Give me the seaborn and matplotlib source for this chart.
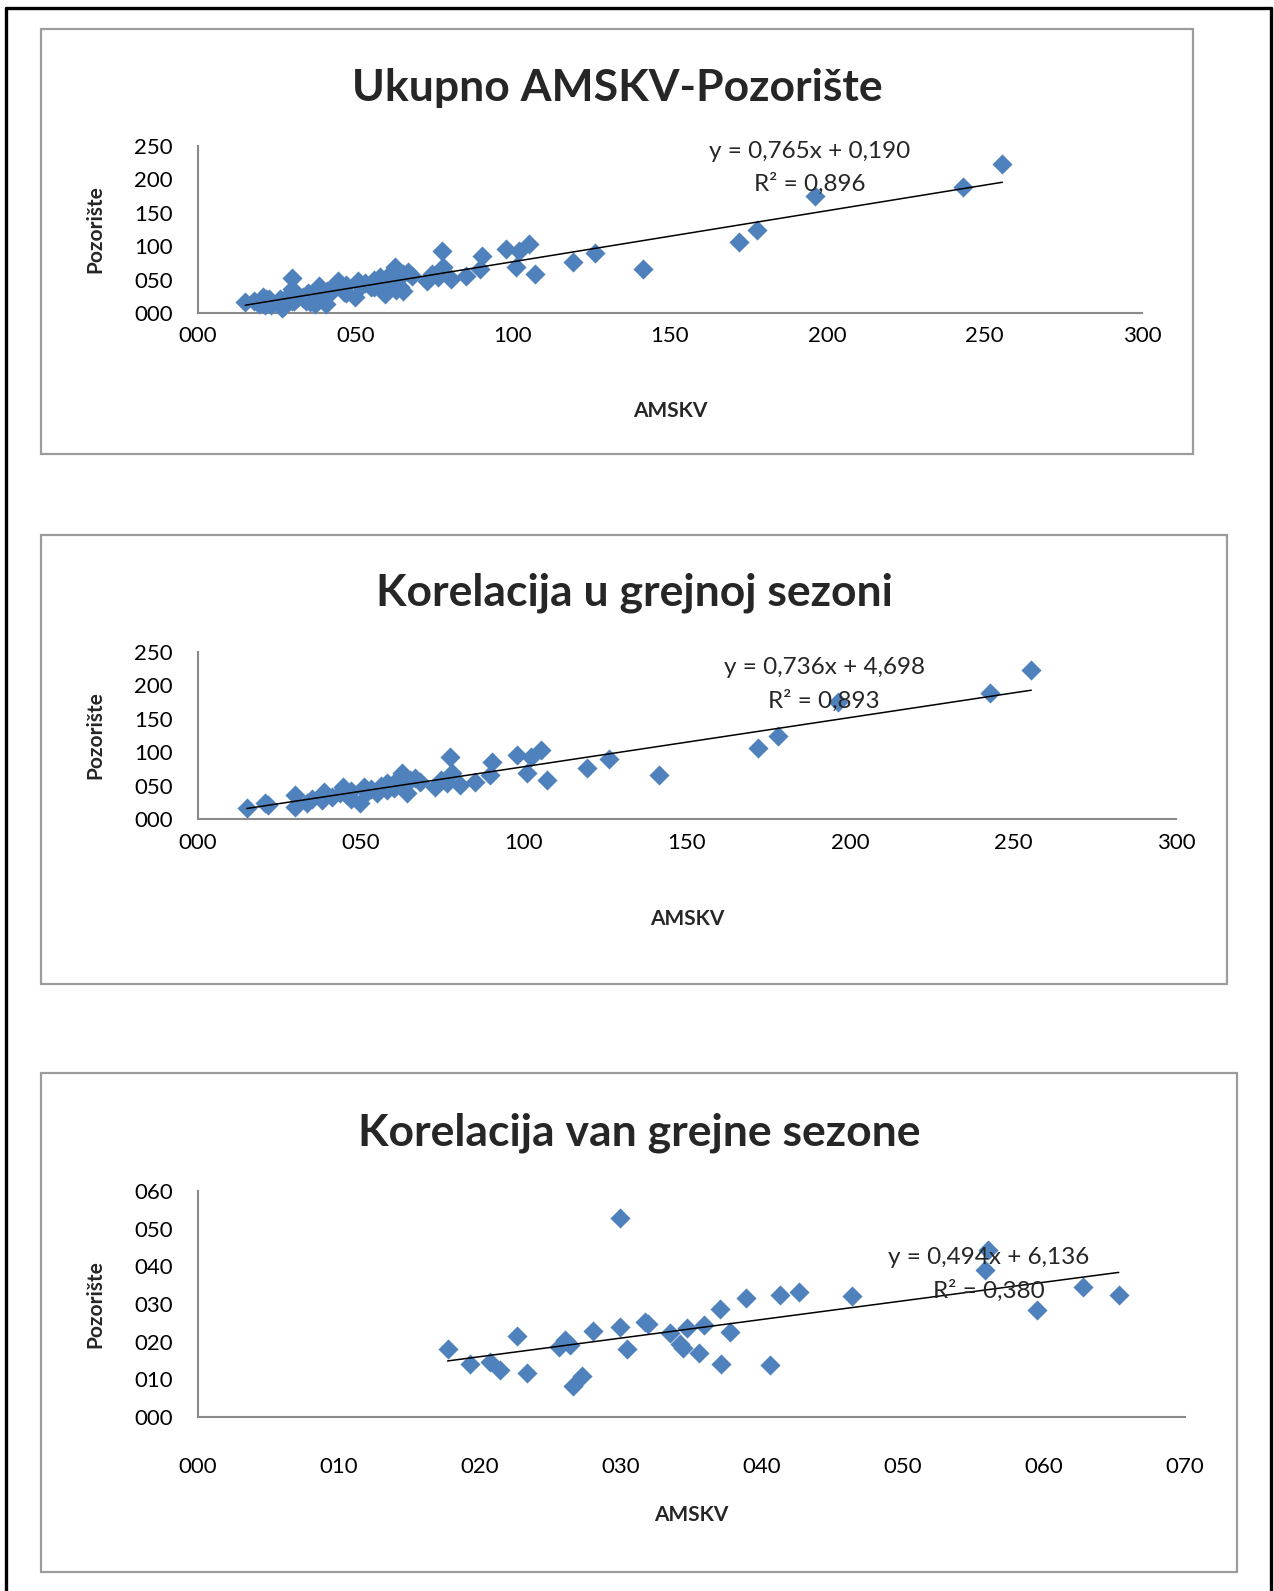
import numpy as np
import pandas as pd
import matplotlib
matplotlib.use("Agg")
import matplotlib.pyplot as plt
import seaborn as sns
from matplotlib.patches import Rectangle
from matplotlib.lines import Line2D
from matplotlib.ticker import MultipleLocator, FuncFormatter

# grejna sezona (AMSKV, Pozoriste)
heat_x = [15.0, 20.6, 21.6, 29.8, 29.8, 33.4, 35.0, 38.0, 38.5, 41.0, 43.6, 44.6,
          45.7, 47.0, 47.0, 49.8, 50.8, 51.8, 53.0, 54.9, 56.0, 57.9, 58.0, 60.0,
          61.0, 62.5, 63.0, 64.1, 65.1, 66.7, 68.0, 72.8, 74.4, 76.4, 77.4, 77.9,
          80.5, 85.1, 89.7, 90.2, 97.9, 101.0, 102.0, 105.1, 107.2, 119.2, 126.1,
          141.5, 171.8, 177.8, 196.2, 243.0, 255.6]
heat_y = [16.9, 23.4, 21.0, 36.0, 18.4, 23.4, 30.0, 28.4, 40.9, 33.0, 38.4, 48.4,
          35.9, 42.0, 30.0, 23.4, 48.4, 40.9, 45.0, 38.4, 50.0, 53.4, 43.0, 45.9,
          58.4, 68.4, 52.0, 38.4, 58.4, 60.9, 56.0, 48.4, 58.4, 53.4, 92.3, 68.4,
          50.9, 55.9, 65.9, 85.8, 95.8, 68.4, 93.3, 103.3, 59.1, 75.9, 89.4,
          65.9, 106.7, 124.7, 175.6, 188.0, 223.0]

# van grejne sezone
out_x = [17.7, 19.3, 20.7, 21.4, 22.6, 23.3, 25.6, 26.0, 26.4, 26.6, 27.2, 28.0,
         29.9, 29.9, 30.4, 31.7, 31.9, 33.5, 34.2, 34.4, 34.7, 35.5, 35.9, 37.0,
         37.1, 37.7, 38.9, 40.6, 41.3, 42.6, 46.4, 56.0, 55.8, 59.5, 62.8, 65.3]
out_y = [18.0, 14.2, 14.7, 12.5, 21.6, 11.8, 18.6, 20.4, 19.1, 8.2, 10.9, 22.9,
         52.9, 23.8, 18.0, 25.3, 24.7, 22.2, 19.5, 18.2, 23.5, 17.1, 24.3, 28.6,
         14.0, 22.6, 31.7, 13.8, 32.4, 33.2, 32.1, 44.3, 39.0, 28.4, 34.4, 32.4]

all_x = heat_x + out_x
all_y = heat_y + out_y

titles = ["Ukupno AMSKV-Pozorište", "Korelacija u grejnoj sezoni", "Korelacija van grejne sezone"]
slopes = [0.765, 0.736, 0.494]
intercepts = [0.190, 4.698, 6.136]
eq_labels = ["y = 0,765x + 0,190", "y = 0,736x + 4,698", "y = 0,494x + 6,136"]
r2_labels = ["R² = 0,896", "R² = 0,893", "R² = 0,380"]

sns.set_style("white")
plt.rcParams['font.family'] = ['Lato', 'DejaVu Sans']

W, H = 1274, 1591
fig = plt.figure(figsize=(W / 100, H / 100), dpi=100)


def fx(px):
    return px / W


def fy(py):
    return 1 - py / H


# spoljni okvir (bez donje ivice)
for xs, ys in [((6, 6), (8, H)), ((6, 1271), (8, 8)), ((1271, 1271), (8, H))]:
    fig.add_artist(Line2D([fx(v) for v in xs], [fy(v) for v in ys],
                          transform=fig.transFigure, color='black', lw=2.4))

panels = [
    dict(x=all_x, y=all_y, box=(41, 29, 1193, 454), plot=(198, 146, 1142, 313),
         xmax=300, ymax=250, step=50, title_y=88, xl_y=411, eq=(810, 152, 184), xpad=2),
    dict(x=heat_x, y=heat_y, box=(41, 535, 1227, 984), plot=(198, 652, 1176, 819),
         xmax=300, ymax=250, step=50, title_y=593, xl_y=919, eq=(824, 668, 701), xpad=3),
    dict(x=out_x, y=out_y, box=(41, 1073, 1237, 1572), plot=(198, 1191, 1185, 1417),
         xmax=70, ymax=60, step=10, title_y=1133, xl_y=1515, eq=(989, 1258, 1291), xpad=22),
]

fmt = FuncFormatter(lambda v, p: f"{int(round(v)):03d}")

for i, p in enumerate(panels):
    bl, bt, br, bb = p['box']
    fig.add_artist(Rectangle((fx(bl), fy(bb)), (br - bl) / W, (bb - bt) / H,
                             transform=fig.transFigure, fill=False,
                             ec='#9c9c9c', lw=1.6))
    l, t, r, b = p['plot']
    ax = fig.add_axes([fx(l), fy(b), (r - l) / W, (b - t) / H])
    df = pd.DataFrame({'AMSKV': p['x'], 'Pozorište': p['y']})
    sns.scatterplot(data=df, x='AMSKV', y='Pozorište', marker='D', s=105,
                    color='#4F81BD', linewidth=0, ax=ax, clip_on=False, zorder=3)
    lx = np.array([min(p['x']), max(p['x'])])
    ax.plot(lx, slopes[i] * lx + intercepts[i], color='black', lw=1.1, zorder=4)

    ax.set_xlim(0, p['xmax'])
    ax.set_ylim(0, p['ymax'])
    ax.xaxis.set_major_locator(MultipleLocator(p['step']))
    ax.yaxis.set_major_locator(MultipleLocator(p['step']))
    ax.xaxis.set_major_formatter(fmt)
    ax.yaxis.set_major_formatter(fmt)
    ax.set_xlabel('')
    ax.set_ylabel('')
    for s in ['top', 'right']:
        ax.spines[s].set_visible(False)
    for s in ['left', 'bottom']:
        ax.spines[s].set_color('#8a8a8a')
        ax.spines[s].set_linewidth(1.5)
    ax.tick_params(axis='both', direction='out', length=7, width=1.5,
                   color='#8a8a8a', labelsize=16, labelcolor='black')
    ax.tick_params(axis='y', pad=11)
    ax.tick_params(axis='x', pad=p['xpad'])
    ax.patch.set_alpha(0)

    cx = (bl + br) / 2
    fig.text(fx(cx), fy(p['title_y']), titles[i], ha='center', va='center',
             fontsize=32, fontweight='bold')
    fig.text(fx((l + r) / 2), fy(p['xl_y']), 'AMSKV', ha='center', va='center',
             fontsize=15, fontweight='bold')
    fig.text(fx(95), fy((t + b) / 2), 'Pozorište', ha='center', va='center',
             rotation=90, fontsize=15, fontweight='bold')
    ex, ey1, ey2 = p['eq']
    fig.text(fx(ex), fy(ey1), eq_labels[i], ha='center', va='center', fontsize=17.5)
    fig.text(fx(ex), fy(ey2), r2_labels[i], ha='center', va='center', fontsize=17.5)

fig.savefig('out.png', dpi=100)
